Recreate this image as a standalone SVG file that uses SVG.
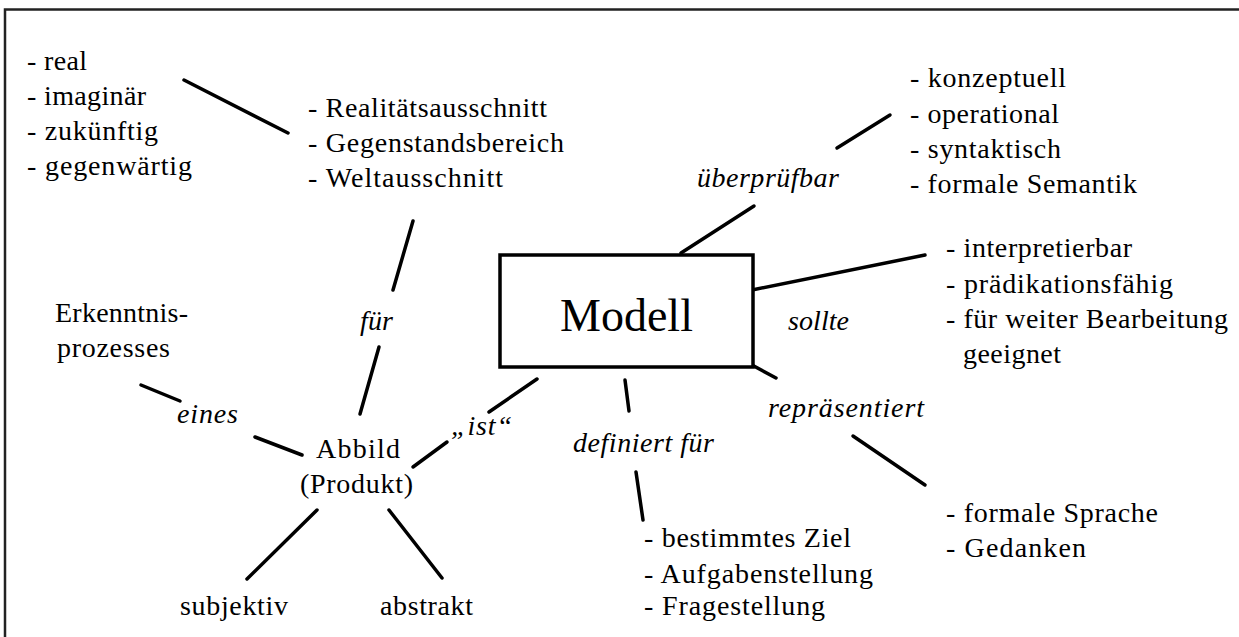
<svg xmlns="http://www.w3.org/2000/svg" width="1239" height="637" viewBox="0 0 1239 637">
<style>
text{font-family:'Liberation Serif','DejaVu Serif','Times New Roman',serif;font-size:28px;fill:#000}
.i{font-style:italic}
.big{font-size:46px}
.c line{stroke:#000;stroke-width:3.5;stroke-linecap:round}
</style>
<rect x="0" y="0" width="1239" height="637" fill="#fff"/>
<rect id="frame" x="5" y="9.5" width="1300" height="700" fill="none" stroke="#222" stroke-width="2.5"/>
<g class="c" id="connectors">
<line x1="184" y1="80" x2="288" y2="133"/>
<line x1="413" y1="221" x2="393" y2="290"/>
<line x1="379" y1="347" x2="360" y2="414"/>
<line x1="141" y1="385" x2="180" y2="401"/>
<line x1="255" y1="437" x2="302" y2="455"/>
<line x1="537" y1="379" x2="489" y2="412"/>
<line x1="447" y1="442" x2="413" y2="467"/>
<line x1="317" y1="510" x2="247" y2="579"/>
<line x1="389" y1="510" x2="442" y2="578"/>
<line x1="625" y1="380" x2="629" y2="411"/>
<line x1="636" y1="472" x2="643" y2="520"/>
<line x1="837" y1="148" x2="890" y2="115"/>
<line x1="754" y1="206" x2="681" y2="253"/>
<line x1="925" y1="255" x2="752" y2="290"/>
<line x1="752" y1="365" x2="776" y2="378"/>
<line x1="853" y1="436" x2="925" y2="485"/>
</g>
<g id="modell">
<rect x="500" y="255" width="253" height="112" fill="#fff" stroke="#000" stroke-width="3.5"/>
<text class="big" x="626.5" y="331" text-anchor="middle">Modell</text>
</g>
<g id="arten">
<text x="27" y="70" textLength="60" lengthAdjust="spacing">- real</text>
<text x="27" y="105" textLength="119" lengthAdjust="spacing">- imaginär</text>
<text x="27" y="140" textLength="131" lengthAdjust="spacing">- zukünftig</text>
<text x="27" y="175" textLength="165" lengthAdjust="spacing">- gegenwärtig</text>
</g>
<g id="bereich">
<text x="308" y="117" textLength="239" lengthAdjust="spacing">- Realitätsausschnitt</text>
<text x="308" y="152" textLength="256" lengthAdjust="spacing">- Gegenstandsbereich</text>
<text x="308" y="187" textLength="195" lengthAdjust="spacing">- Weltausschnitt</text>
</g>
<g id="pruefung">
<text x="910" y="87" textLength="156" lengthAdjust="spacing">- konzeptuell</text>
<text x="910" y="123" textLength="149" lengthAdjust="spacing">- operational</text>
<text x="910" y="158" textLength="151" lengthAdjust="spacing">- syntaktisch</text>
<text x="910" y="193" textLength="227" lengthAdjust="spacing">- formale Semantik</text>
</g>
<g id="label-ueberpruefbar"><text class="i" x="697" y="187" textLength="142" lengthAdjust="spacing">überprüfbar</text></g>
<g id="eigenschaften">
<text x="946" y="257" textLength="186" lengthAdjust="spacing">- interpretierbar</text>
<text x="946" y="293" textLength="227" lengthAdjust="spacing">- prädikationsfähig</text>
<text x="946" y="328" textLength="282" lengthAdjust="spacing">- für weiter Bearbeitung</text>
<text x="963" y="363" textLength="98" lengthAdjust="spacing">geeignet</text>
</g>
<g id="label-sollte"><text class="i" x="788" y="330" textLength="61" lengthAdjust="spacing">sollte</text></g>
<g id="label-repraesentiert"><text class="i" x="768" y="417" textLength="156" lengthAdjust="spacing">repräsentiert</text></g>
<g id="darstellung">
<text x="946" y="522" textLength="212" lengthAdjust="spacing">- formale Sprache</text>
<text x="946" y="557" textLength="140" lengthAdjust="spacing">- Gedanken</text>
</g>
<g id="label-definiert"><text class="i" x="573" y="452" textLength="141" lengthAdjust="spacing">definiert für</text></g>
<g id="zweck">
<text x="644" y="547" textLength="207" lengthAdjust="spacing">- bestimmtes Ziel</text>
<text x="644" y="583" textLength="229" lengthAdjust="spacing">- Aufgabenstellung</text>
<text x="644" y="615" textLength="181" lengthAdjust="spacing">- Fragestellung</text>
</g>
<g id="erkenntnis">
<text x="55" y="322" textLength="133" lengthAdjust="spacing">Erkenntnis-</text>
<text x="57" y="357" textLength="113" lengthAdjust="spacing">prozesses</text>
</g>
<g id="label-fuer"><text class="i" x="360" y="330" textLength="33" lengthAdjust="spacing">für</text></g>
<g id="label-eines"><text class="i" x="177" y="423" textLength="61" lengthAdjust="spacing">eines</text></g>
<g id="label-ist"><text class="i" x="451" y="435" textLength="61" lengthAdjust="spacing">„ist“</text></g>
<g id="abbild">
<text x="316" y="458" textLength="84" lengthAdjust="spacing">Abbild</text>
<text x="300" y="493" textLength="113" lengthAdjust="spacing">(Produkt)</text>
</g>
<g id="subjektiv"><text x="180" y="615" textLength="108" lengthAdjust="spacing">subjektiv</text></g>
<g id="abstrakt"><text x="380" y="615" textLength="93" lengthAdjust="spacing">abstrakt</text></g>
</svg>
